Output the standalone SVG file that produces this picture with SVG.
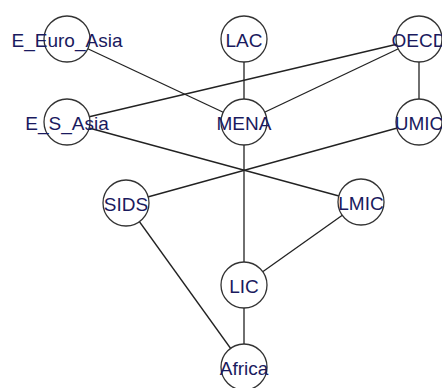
<svg xmlns="http://www.w3.org/2000/svg" width="442" height="388" viewBox="0 0 442 388">
<style>
.e{stroke:#222;stroke-width:1.3;fill:none}
.n circle{fill:#fff;stroke:#333;stroke-width:1.3}
.n text{font-family:"Liberation Sans",Arial,sans-serif;font-size:19px;fill:#1a1a5e;text-anchor:middle;dominant-baseline:central}
</style>
<rect width="442" height="388" fill="#fff"/>
<g id="edges">
<line class="e" x1="67" y1="39" x2="244" y2="122"/>
<line class="e" x1="244" y1="39" x2="244" y2="122"/>
<line class="e" x1="419" y1="39" x2="67" y2="122"/>
<line class="e" x1="419" y1="39" x2="244" y2="122"/>
<line class="e" x1="419" y1="39" x2="419" y2="122"/>
<line class="e" x1="67" y1="122" x2="361" y2="202"/>
<line class="e" x1="419" y1="122" x2="126" y2="203"/>
<line class="e" x1="244" y1="122" x2="244" y2="285"/>
<line class="e" x1="361" y1="202" x2="244" y2="285"/>
<line class="e" x1="126" y1="203" x2="244" y2="367"/>
<line class="e" x1="244" y1="285" x2="244" y2="367"/>
</g>
<g id="E_Euro_Asia" class="n"><circle cx="67" cy="39" r="23"/><text x="67" y="40">E_Euro_Asia</text></g>
<g id="LAC" class="n"><circle cx="244" cy="39" r="23"/><text x="244" y="40">LAC</text></g>
<g id="OECD" class="n"><circle cx="419" cy="39" r="23"/><text x="419" y="40">OECD</text></g>
<g id="E_S_Asia" class="n"><circle cx="67" cy="122" r="23"/><text x="67" y="123">E_S_Asia</text></g>
<g id="MENA" class="n"><circle cx="244" cy="122" r="23"/><text x="244" y="123">MENA</text></g>
<g id="UMIC" class="n"><circle cx="419" cy="122" r="23"/><text x="419" y="123">UMIC</text></g>
<g id="SIDS" class="n"><circle cx="126" cy="203" r="23"/><text x="126" y="204">SIDS</text></g>
<g id="LMIC" class="n"><circle cx="361" cy="202" r="23"/><text x="361" y="203">LMIC</text></g>
<g id="LIC" class="n"><circle cx="244" cy="285" r="23"/><text x="244" y="286">LIC</text></g>
<g id="Africa" class="n"><circle cx="244" cy="367" r="23"/><text x="244" y="368">Africa</text></g>
</svg>
